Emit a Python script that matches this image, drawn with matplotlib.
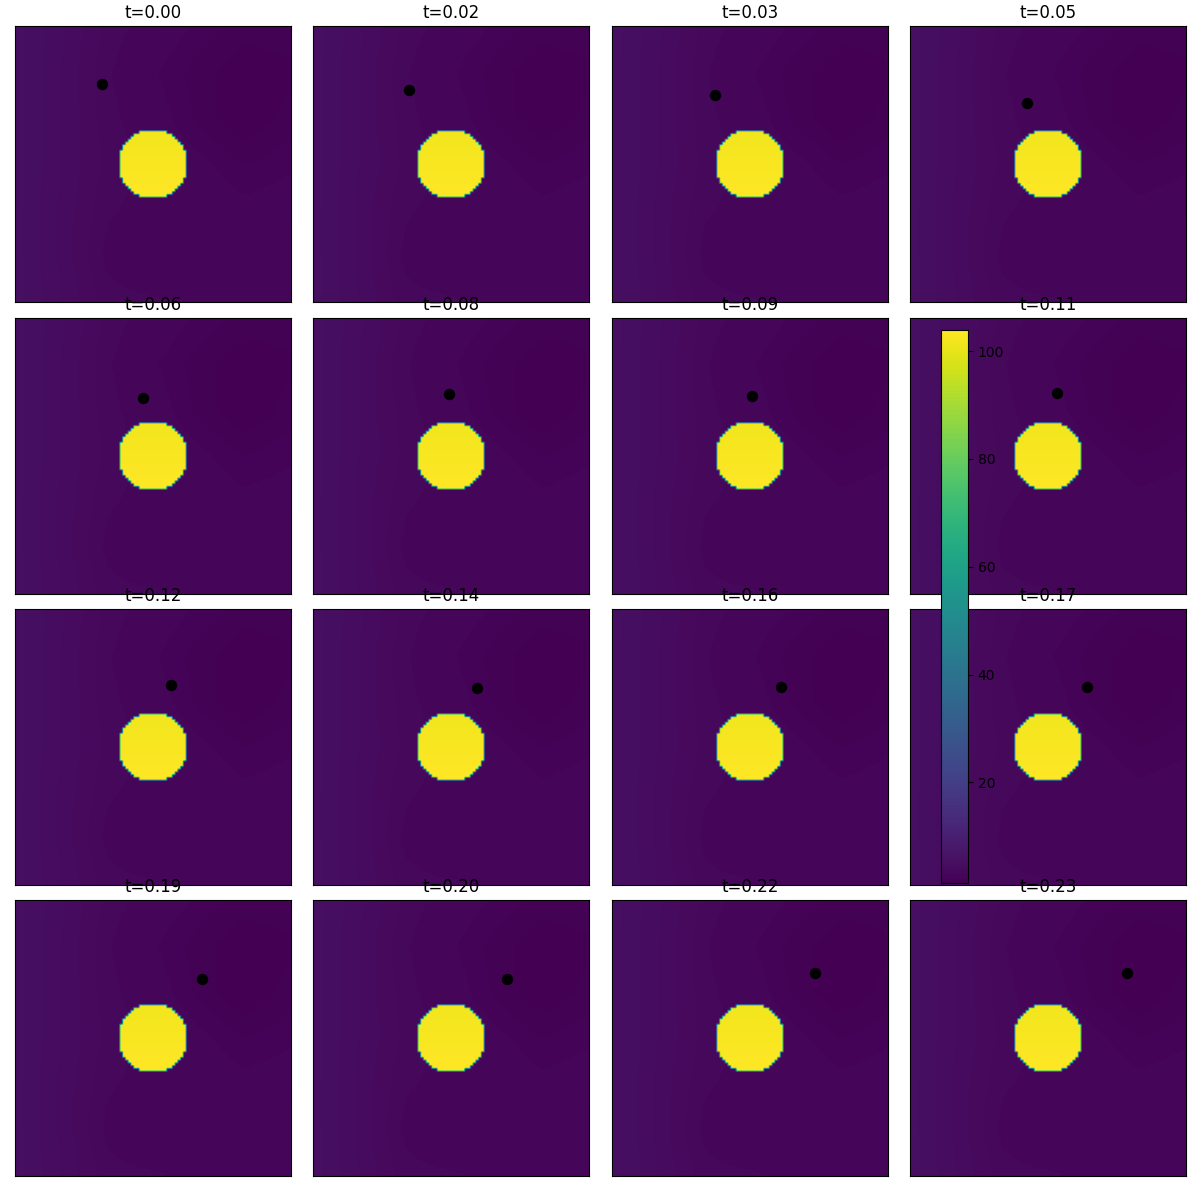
import numpy as np
import matplotlib
matplotlib.use("Agg")
import matplotlib.pyplot as plt

# ---- data ----
titles = ["t=0.00", "t=0.02", "t=0.03", "t=0.05",
          "t=0.06", "t=0.08", "t=0.09", "t=0.11",
          "t=0.12", "t=0.14", "t=0.16", "t=0.17",
          "t=0.19", "t=0.20", "t=0.22", "t=0.23"]
dot_x = [31.0, 34.3, 36.8, 41.9, 45.9, 48.8, 50.2, 52.8,
         56.0, 58.9, 60.7, 63.6, 67.3, 69.8, 73.1, 78.1]
dot_y = [20.5, 22.7, 24.5, 27.4, 28.5, 27.0, 27.8, 26.7,
         27.0, 28.1, 27.8, 27.8, 28.1, 28.1, 25.9, 25.9]

# coarse estimates of the background field (rows top->bottom, cols left->right)
bg_coarse = np.array([
    [5.5, 4.6, 3.6, 3.0, 2.4, 1.9, 2.0],
    [5.5, 4.5, 3.4, 2.6, 1.9, 1.4, 1.6],
    [5.5, 4.5, 3.5, 2.9, 2.0, 1.3, 1.9],
    [5.5, 4.5, 3.6, 3.2, 2.7, 2.1, 2.4],
    [5.5, 4.4, 3.4, 3.1, 3.1, 2.7, 2.9],
    [5.5, 4.4, 3.2, 2.6, 3.0, 3.0, 3.0],
    [5.5, 4.5, 3.5, 3.4, 3.1, 3.0, 3.1],
])
disk_center = 49.5
disk_radius = 12.4
disk_top = 101.8
disk_bottom = 104.0
N = 100

# ---- build the field ----
def upsample(coarse, n):
    cr, cc = coarse.shape
    src_r = np.linspace(0, n - 1, cr)
    src_c = np.linspace(0, n - 1, cc)
    tgt = np.arange(n)
    tmp = np.array([np.interp(tgt, src_c, row) for row in coarse])
    out = np.array([np.interp(tgt, src_r, tmp[:, j]) for j in range(n)]).T
    return out

field = upsample(bg_coarse, N)
jj, ii = np.mgrid[0:N, 0:N]
dist2 = (ii - disk_center) ** 2 + (jj - disk_center) ** 2
inside = dist2 < disk_radius ** 2
frac = np.clip((jj - (disk_center - disk_radius)) / (2 * disk_radius), 0, 1)
disk_vals = disk_top + (disk_bottom - disk_top) * frac
field = np.where(inside, disk_vals, field)

fig = plt.figure(figsize=(12, 12), dpi=100)
W, H = 1200.0, 1200.0
col_left = [15, 313, 612, 910]
row_top = [26, 318, 609, 900]
size = 276
im = None
for k in range(16):
    r, c = divmod(k, 4)
    ax = fig.add_axes([col_left[c] / W, 1 - (row_top[r] + size) / H, size / W, size / H])
    im = ax.imshow(field, cmap="viridis", interpolation="antialiased",
                   interpolation_stage="data")
    ax.plot(dot_x[k], dot_y[k], "o", color="black", markersize=7.2)
    ax.set_title(titles[k], fontsize=12)
    ax.set_xticks([])
    ax.set_yticks([])

cax = fig.add_axes([941 / W, 1 - 883 / H, 27 / W, 553 / H])
fig.colorbar(im, cax=cax)

fig.savefig("out.png", dpi=100)
